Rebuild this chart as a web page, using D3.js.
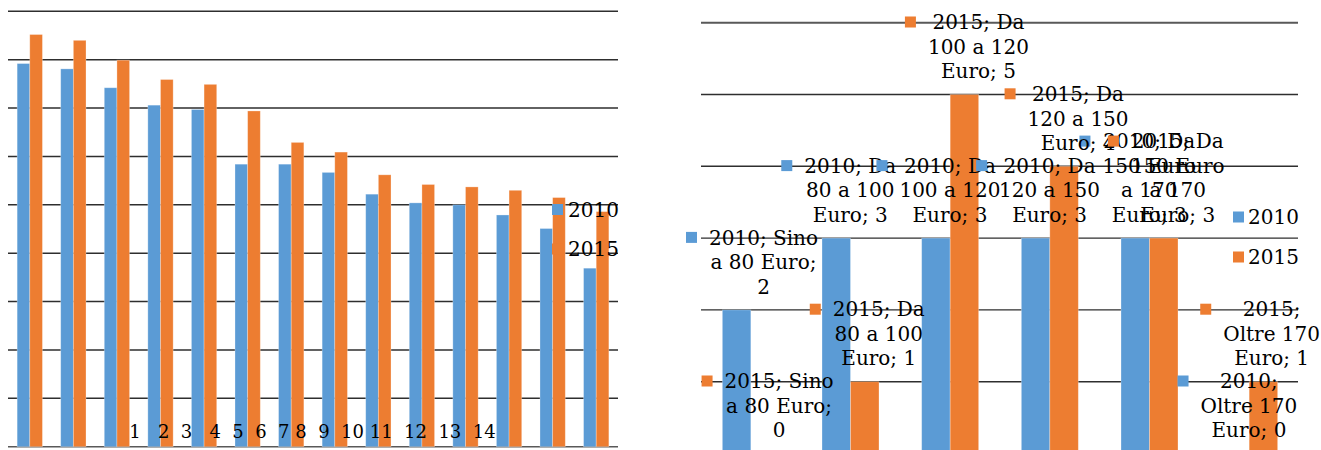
<!DOCTYPE html>
<html>
<head>
<meta charset="utf-8">
<script src="https://cdn.jsdelivr.net/npm/d3@7"></script>
<style>
  html, body { margin: 0; padding: 0; background: #fff; }
  svg { display: block; }
  text { font-family: "DejaVu Serif", serif; fill: #000; }
</style>
</head>
<body>
<svg id="chart" width="1321" height="450"></svg>
<script>
// ---------- DATA ----------
const seriesNames = ["2010", "2015"];

// Left chart (14 categories, no value axis labels shown)
const leftCategories = ["1","2","3","4","5","6","7","8","9","10","11","12","13","14"];
const left2010 = [79.2, 78.1, 74.2, 70.6, 69.7, 58.4, 58.4, 56.7, 52.2, 50.4, 50.0, 47.9, 45.1, 36.9];
const left2015 = [85.2, 84.0, 79.9, 75.9, 74.9, 69.4, 62.9, 60.9, 56.2, 54.2, 53.7, 53.0, 51.5, 48.6];
const leftTicks = [0, 10, 20, 30, 40, 50, 60, 70, 80, 90];
const leftLabelGaps = [3, 2, 3, 2, 2, 2, 1, 2, 2, 1, 2, 2, 2];

// Right chart (price ranges)
const priceCategories = ["Sino a 80 Euro", "Da 80 a 100 Euro", "Da 100 a 120 Euro",
                         "Da 120 a 150 Euro", "Da 150 Euro a 170 Euro", "Oltre 170 Euro"];
const right2010 = [2, 3, 3, 3, 3, 0];
const right2015 = [0, 1, 5, 4, 3, 1];
const rightTicks = [0, 1, 2, 3, 4, 5, 6];

// ---------- STYLE ----------
const colors = { "2010": "#5b9bd5", "2015": "#ed7d31" };
const gridColor = "#2e2e2e";

const svg = d3.select("#chart");

// ================= LEFT CHART =================
{
  const xL = d3.scaleBand().domain(leftCategories).range([8, 618]);
  const xSub = d3.scaleBand().domain(seriesNames).range([0, xL.bandwidth()]).paddingOuter(0.722);
  const yL = d3.scaleLinear().domain([0, 90]).range([446.7, 11.3]);

  const g = svg.append("g");
  g.selectAll("line.grid").data(leftTicks).join("line")
    .attr("class", "grid")
    .attr("x1", 8).attr("x2", 618)
    .attr("y1", d => yL(d)).attr("y2", d => yL(d))
    .attr("stroke", d => d === 0 ? "#595959" : gridColor)
    .attr("stroke-width", 1.6);

  const rows = leftCategories.map((c, i) => ({ c, vals: [left2010[i], left2015[i]] }));
  const grp = g.selectAll("g.cat").data(rows).join("g")
    .attr("transform", d => `translate(${xL(d.c)},0)`);
  grp.selectAll("rect").data(d => d.vals.map((v, k) => ({ s: seriesNames[k], v }))).join("rect")
    .attr("x", d => xSub(d.s))
    .attr("width", xSub.bandwidth())
    .attr("y", d => yL(d.v))
    .attr("height", d => yL(0) - yL(d.v))
    .attr("fill", d => colors[d.s])
    .attr("stroke", "#fff").attr("stroke-opacity", 0.35).attr("stroke-width", 0.8);

  // category labels (misplaced in the original, flowing as text)
  let str = leftCategories[0];
  for (let i = 1; i < leftCategories.length; i++) {
    str += " ".repeat(leftLabelGaps[i - 1]) + leftCategories[i];
  }
  g.append("text")
    .attr("x", 129.3).attr("y", 438)
    .attr("xml:space", "preserve")
    .style("white-space", "pre")
    .attr("font-size", 18)
    .text(str);

  // legend
  const leg = g.selectAll("g.leg").data(seriesNames).join("g")
    .attr("transform", (d, i) => `translate(552,${204 + i * 39.5})`);
  leg.append("rect").attr("width", 11).attr("height", 11).attr("fill", d => colors[d]);
  leg.append("text").attr("x", 16).attr("y", 12.7).attr("font-size", 20).text(d => d);
}

// ================= RIGHT CHART =================
{
  const xR = d3.scaleBand().domain(priceCategories).range([701, 1299]);
  const xSub = d3.scaleBand().domain(seriesNames).range([0, xR.bandwidth()]).paddingOuter(0.749);
  const yR = d3.scaleLinear().domain([0, 6]).range([453.5, 22.7]);

  const g = svg.append("g");
  g.selectAll("line.grid").data(rightTicks).join("line")
    .attr("x1", 701).attr("x2", 1298)
    .attr("y1", d => yR(d)).attr("y2", d => yR(d))
    .attr("stroke", d => d === 6 ? "#595959" : gridColor)
    .attr("stroke-width", d => d === 6 ? 2 : 1.4);

  const rows = priceCategories.map((c, i) => ({ c, vals: [right2010[i], right2015[i]] }));
  const items = [];
  rows.forEach(r => r.vals.forEach((v, k) => items.push({ c: r.c, s: seriesNames[k], v })));

  g.selectAll("rect.bar").data(items).join("rect")
    .attr("class", "bar")
    .attr("x", d => xR(d.c) + xSub(d.s))
    .attr("width", xSub.bandwidth())
    .attr("y", d => yR(d.v))
    .attr("height", d => yR(0) - yR(d.v))
    .attr("fill", d => colors[d.s])
    .attr("stroke", "#fff").attr("stroke-opacity", 0.35).attr("stroke-width", 0.8);

  // data labels with legend keys
  const fontSize = 20, maxW = 110.5, lineH = 24.5;
  const meas = g.append("text").attr("font-size", fontSize).attr("visibility", "hidden");
  const tw = s => { meas.text(s); return meas.node().getComputedTextLength(); };
  function wrap(str) {
    const words = str.split(" ");
    const lines = [];
    let cur = words[0];
    for (let i = 1; i < words.length; i++) {
      const t = cur + " " + words[i];
      if (tw(t) <= maxW) cur = t; else { lines.push(cur); cur = words[i]; }
    }
    lines.push(cur);
    return lines;
  }
  const labelOrder = seriesNames.flatMap(s => items.filter(d => d.s === s));
  const lg = g.append("g");
  labelOrder.forEach(d => {
    const lines = wrap(`${d.s}; ${d.c}; ${d.v}`);
    const widths = lines.map(tw);
    const mw = d3.max(widths);
    const barCx = xR(d.c) + xSub(d.s) + xSub.bandwidth() / 2;
    let cx = barCx + 14;
    const keyLeft = cx - mw / 2 - 23;
    if (keyLeft < 686) cx += 686 - keyLeft;
    if (cx + mw / 2 > 1320) cx = 1320 - mw / 2;
    const lastC = yR(d.v) - 23.5;
    const firstC = lastC - (lines.length - 1) * lineH;
    lg.append("rect")
      .attr("x", cx - mw / 2 - 23).attr("y", firstC - 5.5)
      .attr("width", 11).attr("height", 11)
      .attr("fill", colors[d.s]);
    lines.forEach((ln, i) => {
      lg.append("text")
        .attr("x", cx).attr("y", firstC + i * lineH + 7.2)
        .attr("text-anchor", "middle")
        .attr("font-size", fontSize)
        .text(ln);
    });
  });
  meas.remove();

  // legend
  const leg = g.selectAll("g.leg").data(seriesNames).join("g")
    .attr("transform", (d, i) => `translate(1233,${211.5 + i * 40})`);
  leg.append("rect").attr("width", 11).attr("height", 11).attr("fill", d => colors[d]);
  leg.append("text").attr("x", 15).attr("y", 12.8).attr("font-size", 20).text(d => d);
}
</script>
</body>
</html>
